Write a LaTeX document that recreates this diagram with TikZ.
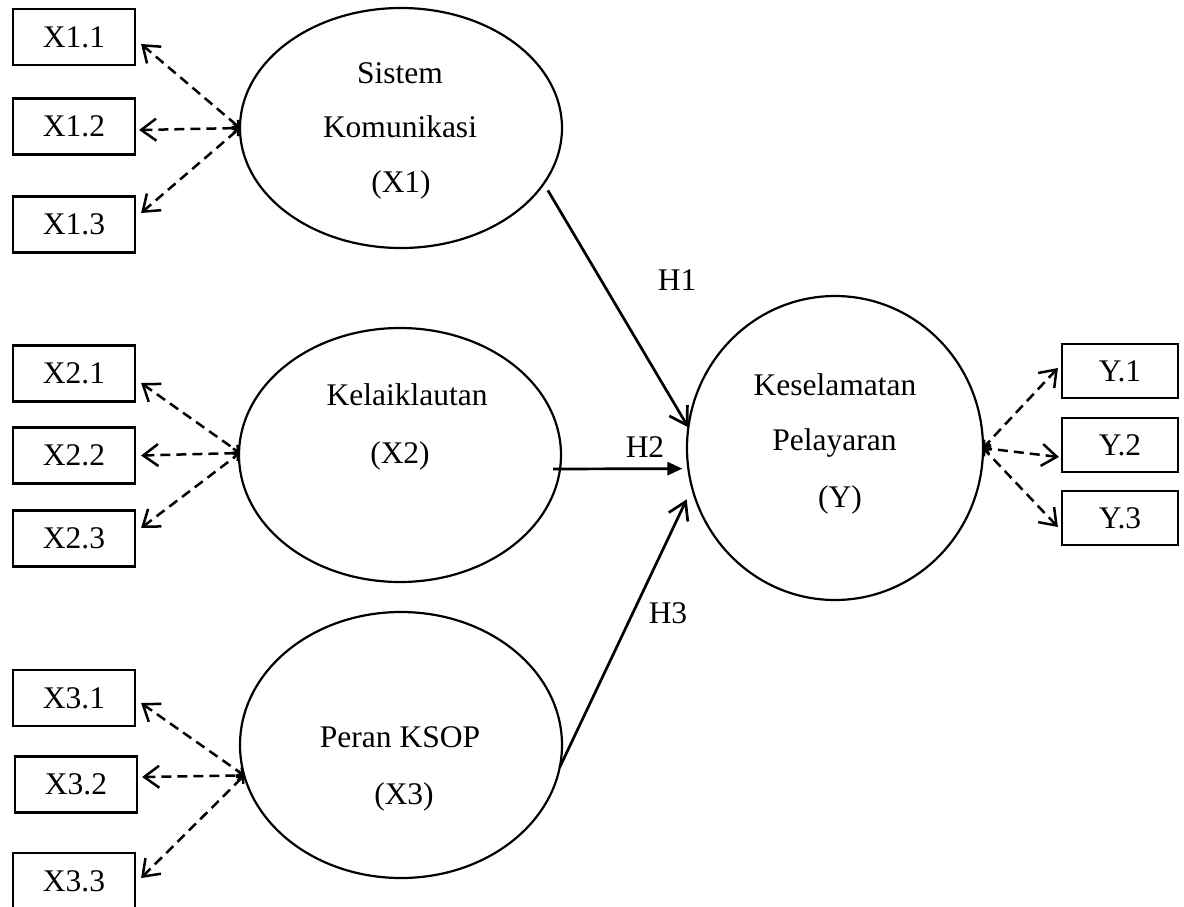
\documentclass[tikz,border=0pt]{standalone}
\usepackage{fontspec}
\setmainfont{Liberation Serif}
\usetikzlibrary{shapes.geometric,arrows.meta}
\begin{document}
\begin{tikzpicture}[x=1pt,y=-1pt,
  every node/.style={font=\fontsize{31.5}{37}\selectfont},
  ind/.style={draw,line width=2.2pt,minimum width=122pt,minimum height=56pt,inner sep=0pt},
  indy/.style={draw,line width=2.2pt,minimum width=116pt,minimum height=54pt,inner sep=0pt},
  lat/.style={draw,ellipse,line width=2.2pt,inner sep=0pt,outer sep=0pt},
  lbl/.style={anchor=base,inner sep=0pt},
  dasharr/.style={line width=2.5pt,dash pattern=on 10pt off 6pt,
     {Straight Barb[length=15pt,width=22pt]}-{Straight Barb[length=5pt,width=10pt]}},
  patharr/.style={line width=2.7pt,-{Straight Barb[length=17pt,width=21pt]}},
  patharrf/.style={line width=2.7pt,-{Triangle[length=15pt,width=13pt]}}
]
\useasboundingbox (0,0) rectangle (1184,906);

% latent variables
\node[lat,minimum width=322pt,minimum height=240pt] (e1) at (401,128) {};
\node[lat,minimum width=322pt,minimum height=254pt] (e2) at (400,455) {};
\node[lat,minimum width=322pt,minimum height=266pt] (e3) at (401,745) {};
\node[lat,minimum width=296pt,minimum height=304pt] (ey) at (835,448) {};

\node[lbl] (t1a) at (400,83) {Sistem};
\node[lbl] (t1b) at (400,137) {Komunikasi};
\node[lbl] (t1c) at (401,192) {(X1)};
\node[lbl] (t2a) at (407,405) {Kelaiklautan};
\node[lbl] (t2b) at (400,463) {(X2)};
\node[lbl] (t3a) at (400,747) {Peran KSOP};
\node[lbl] (t3b) at (404,804) {(X3)};
\node[lbl] (tya) at (835,395) {Keselamatan};
\node[lbl] (tyb) at (834.5,450) {Pelayaran};
\node[lbl] (tyc) at (840,507) {(Y)};

% indicators
\node[ind] (b11) at (74,37) {X1.1};
\node[ind] (b12) at (74,126.5) {X1.2};
\node[ind] (b13) at (74,224.5) {X1.3};
\node[ind] (b21) at (74,373.5) {X2.1};
\node[ind] (b22) at (74,455.5) {X2.2};
\node[ind] (b23) at (74,538.5) {X2.3};
\node[ind] (b31) at (74,698) {X3.1};
\node[ind] (b32) at (76,784.5) {X3.2};
\node[ind] (b33) at (74,881) {X3.3};
\node[indy] (by1) at (1120,371) {Y.1};
\node[indy] (by2) at (1120,445) {Y.2};
\node[indy] (by3) at (1120,518) {Y.3};

% dashed loadings
\draw[dasharr] ([shift={(5,7)}]b11.east) -- (e1.west);
\draw[dasharr] ([shift={(3,3.5)}]b12.east) -- (e1.west);
\draw[dasharr] ([shift={(5,-11.5)}]b13.east) -- (e1.west);
\draw[dasharr] ([shift={(5,9.5)}]b21.east) -- ([shift={(1,-2)}]e2.west);
\draw[dasharr] ([shift={(5,0)}]b22.east) -- ([shift={(1,-2)}]e2.west);
\draw[dasharr] ([shift={(5,-10.5)}]b23.east) -- ([shift={(1,-2)}]e2.west);
\draw[dasharr] ([shift={(5,5)}]b31.east) -- (e3.191);
\draw[dasharr] ([shift={(4,-7.5)}]b32.east) -- (e3.191);
\draw[dasharr] ([shift={(5,-3)}]b33.east) -- (e3.191);
\draw[dasharr] ([shift={(-3,-3)}]by1.west) -- (ey.east);
\draw[dasharr] ([shift={(-2,12)}]by2.west) -- (ey.east);
\draw[dasharr] ([shift={(-3,9)}]by3.west) -- (ey.east);

% structural paths
\draw[patharr] ([shift={(7,3)}]e1.-23) -- (ey.172);
\draw[patharrf] ([shift={(-7,0)}]e2.-5.4) -- ([shift={(-6,0)}]ey.188.5);
\draw[patharr] (e3.-8.9) -- ([shift={(-8,3)}]ey.199.4);

\node[lbl] (h1) at (677,290) {H1};
\node[lbl] (h2) at (645,457) {H2};
\node[lbl] (h3) at (668,623) {H3};
\end{tikzpicture}
\end{document}
